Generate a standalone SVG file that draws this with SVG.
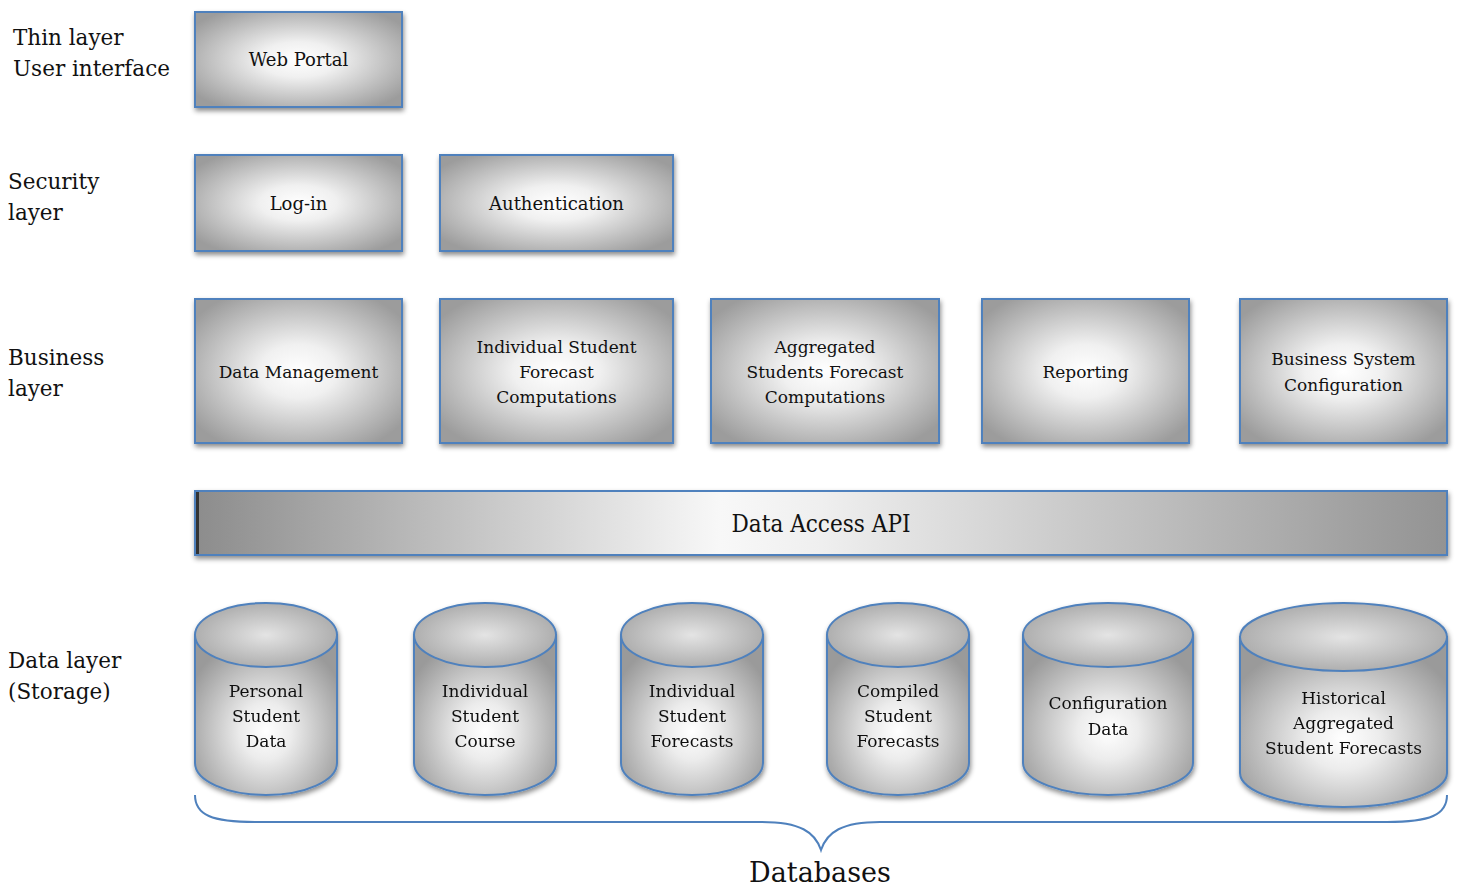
<svg xmlns="http://www.w3.org/2000/svg" width="1457" height="886" viewBox="0 0 1457 886">
<defs>
<radialGradient id="boxg" cx="0.5" cy="0.5" r="0.62">
<stop offset="0" stop-color="#ffffff"/>
<stop offset="0.3" stop-color="#f0f0f0"/>
<stop offset="1" stop-color="#9c9c9c"/>
</radialGradient>
<radialGradient id="cylg" cx="0.5" cy="0.6" r="0.6">
<stop offset="0" stop-color="#ffffff"/>
<stop offset="0.3" stop-color="#ececec"/>
<stop offset="1" stop-color="#9a9a9a"/>
</radialGradient>
<radialGradient id="topg" cx="0.5" cy="0.5" r="0.6">
<stop offset="0" stop-color="#e4e4e4"/>
<stop offset="1" stop-color="#a4a4a4"/>
</radialGradient>
<linearGradient id="apig" x1="0" y1="0" x2="1" y2="0">
<stop offset="0" stop-color="#8c8c8c"/>
<stop offset="0.42" stop-color="#f8f8f8"/>
<stop offset="0.5" stop-color="#efefef"/>
<stop offset="1" stop-color="#939393"/>
</linearGradient>
<filter id="sh" x="-10%" y="-10%" width="125%" height="130%">
<feDropShadow dx="1" dy="3" stdDeviation="2.5" flood-color="#000" flood-opacity="0.45"/>
</filter>
</defs>
<style>
.box{fill:url(#boxg);stroke:#4f81bd;stroke-width:2;filter:url(#sh)}
.cyl{fill:url(#cylg);stroke:#4f81bd;stroke-width:2}
.top{fill:url(#topg);stroke:#4f81bd;stroke-width:2}
.t{font-family:"DejaVu Serif","Liberation Serif",serif;font-size:17px;fill:#111;text-anchor:middle}
.lbl{font-family:"DejaVu Serif","Liberation Serif",serif;font-size:21.5px;fill:#111}
.big{font-family:"DejaVu Serif","Liberation Serif",serif;font-size:27px;fill:#111;text-anchor:middle}
.brace{fill:none;stroke:#4f81bd;stroke-width:2}
</style>

<g id="labels">
<text class="lbl" x="13" y="45">Thin layer</text>
<text class="lbl" x="13" y="76">User interface</text>
<text class="lbl" x="8" y="189">Security</text>
<text class="lbl" x="8" y="220">layer</text>
<text class="lbl" x="8" y="365">Business</text>
<text class="lbl" x="8" y="396">layer</text>
<text class="lbl" x="8" y="668">Data layer</text>
<text class="lbl" x="8" y="699">(Storage)</text>
</g>

<g id="web-portal">
<rect class="box" x="195" y="12" width="207" height="95"/>
<text class="t" x="298.5" y="66" style="font-size:18px">Web Portal</text>
</g>
<g id="log-in">
<rect class="box" x="195" y="155" width="207" height="96"/>
<text class="t" x="298.5" y="210" style="font-size:18px">Log-in</text>
</g>
<g id="authentication">
<rect class="box" x="440" y="155" width="233" height="96"/>
<text class="t" x="556.5" y="210" style="font-size:18px">Authentication</text>
</g>

<g id="data-management">
<rect class="box" x="195" y="299" width="207" height="144"/>
<text class="t" x="298.5" y="378">Data Management</text>
</g>
<g id="individual-student-forecast">
<rect class="box" x="440" y="299" width="233" height="144"/>
<text class="t" x="556.5" y="353">Individual Student</text>
<text class="t" x="556.5" y="378">Forecast</text>
<text class="t" x="556.5" y="403">Computations</text>
</g>
<g id="aggregated-forecast">
<rect class="box" x="711" y="299" width="228" height="144"/>
<text class="t" x="825" y="353">Aggregated</text>
<text class="t" x="825" y="378">Students Forecast</text>
<text class="t" x="825" y="403">Computations</text>
</g>
<g id="reporting">
<rect class="box" x="982" y="299" width="207" height="144"/>
<text class="t" x="1085.5" y="378">Reporting</text>
</g>
<g id="business-config">
<rect class="box" x="1240" y="299" width="207" height="144"/>
<text class="t" x="1343.5" y="365">Business System</text>
<text class="t" x="1343.5" y="391">Configuration</text>
</g>

<g id="data-access-api">
<rect x="195" y="491" width="1252" height="64" fill="url(#apig)" stroke="#4f81bd" stroke-width="2" filter="url(#sh)"/>
<rect x="196" y="492" width="3" height="62" fill="#333"/>
<text class="t" x="821" y="532" style="font-size:24px" textLength="179" lengthAdjust="spacingAndGlyphs">Data Access API</text>
</g>

<g id="db-personal" filter="url(#sh)">
<path class="cyl" d="M195,635 L195,763 A71,32 0 0 0 337,763 L337,635 Z"/>
<ellipse class="top" cx="266" cy="635" rx="71" ry="32"/>
<text class="t" x="266" y="697">Personal</text>
<text class="t" x="266" y="722">Student</text>
<text class="t" x="266" y="747">Data</text>
</g>
<g id="db-course" filter="url(#sh)">
<path class="cyl" d="M414,635 L414,763 A71,32 0 0 0 556,763 L556,635 Z"/>
<ellipse class="top" cx="485" cy="635" rx="71" ry="32"/>
<text class="t" x="485" y="697">Individual</text>
<text class="t" x="485" y="722">Student</text>
<text class="t" x="485" y="747">Course</text>
</g>
<g id="db-forecasts" filter="url(#sh)">
<path class="cyl" d="M621,635 L621,763 A71,32 0 0 0 763,763 L763,635 Z"/>
<ellipse class="top" cx="692" cy="635" rx="71" ry="32"/>
<text class="t" x="692" y="697">Individual</text>
<text class="t" x="692" y="722">Student</text>
<text class="t" x="692" y="747">Forecasts</text>
</g>
<g id="db-compiled" filter="url(#sh)">
<path class="cyl" d="M827,635 L827,763 A71,32 0 0 0 969,763 L969,635 Z"/>
<ellipse class="top" cx="898" cy="635" rx="71" ry="32"/>
<text class="t" x="898" y="697">Compiled</text>
<text class="t" x="898" y="722">Student</text>
<text class="t" x="898" y="747">Forecasts</text>
</g>
<g id="db-config" filter="url(#sh)">
<path class="cyl" d="M1023,635 L1023,763 A85,32 0 0 0 1193,763 L1193,635 Z"/>
<ellipse class="top" cx="1108" cy="635" rx="85" ry="32"/>
<text class="t" x="1108" y="709">Configuration</text>
<text class="t" x="1108" y="735">Data</text>
</g>
<g id="db-historical" filter="url(#sh)">
<path class="cyl" d="M1240,637 L1240,773 A103.5,34 0 0 0 1447,773 L1447,637 Z"/>
<ellipse class="top" cx="1343.5" cy="637" rx="103.5" ry="34"/>
<text class="t" x="1343.5" y="704">Historical</text>
<text class="t" x="1343.5" y="729">Aggregated</text>
<text class="t" x="1343.5" y="754">Student Forecasts</text>
</g>

<g id="connectors">
<path class="brace" d="M195,795 C195,815 212,822 255,822 L762,822 C800,822 815,832 821,850 C827,832 842,822 880,822 L1387,822 C1430,822 1447,815 1447,795"/>
</g>
<g id="databases-label">
<text class="big" x="820" y="882">Databases</text>
</g>
</svg>
